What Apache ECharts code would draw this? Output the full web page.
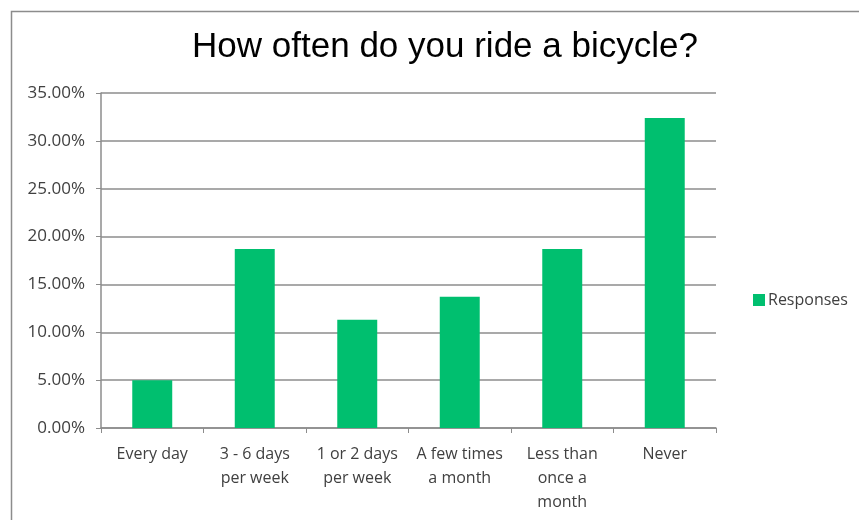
<!DOCTYPE html>
<html><head><meta charset="utf-8">
<script src="https://cdn.jsdelivr.net/npm/echarts@6/dist/echarts.min.js"></script>
<style>html,body{margin:0;padding:0;background:#fff}#c{width:859px;height:520px}</style>
</head><body><div id="c"></div>
<script>
const categories = ["Every day", "3 - 6 days\nper week", "1 or 2 days\nper week", "A few times\na month", "Less than\nonce a\nmonth", "Never"];
const responses = [5.0, 18.7, 11.3, 13.7, 18.7, 32.4];
const yTicks = [0, 5, 10, 15, 20, 25, 30, 35];

const chart = echarts.init(document.getElementById('c'), null, {renderer: 'canvas'});
chart.setOption({
  backgroundColor: '#fff',
  animation: false,
  title: {
    text: 'How often do you ride a bicycle?',
    left: 440, top: 25, textAlign: 'center',
    textStyle: {fontFamily: 'Liberation Sans', fontSize: 35, fontWeight: 'normal', color: '#000'}
  },
  graphic: [{type: 'rect', shape: {x: 11.5, y: 11.5, width: 900, height: 600}, style: {fill: 'none', stroke: '#8c8c8c', lineWidth: 1.5}, silent: true}],
  legend: {
    left: 748, top: 285, orient: 'vertical',
    itemWidth: 12, itemHeight: 12, itemGap: 4,
    icon: 'rect',
    textStyle: {fontFamily: 'Open Sans', fontSize: 16, color: '#404040', padding: [0, 0, 0, -2], lineHeight: 20}
  },
  grid: {left: 101, right: 143, top: 93, bottom: 92, containLabel: false},
  xAxis: {
    type: 'category', data: categories,
    axisLine: {lineStyle: {color: '#8c8c8c', width: 1.5}},
    axisTick: {show: true, alignWithLabel: false, length: 5, lineStyle: {color: '#8c8c8c'}},
    axisLabel: {interval: 0, fontFamily: 'Open Sans', fontSize: 16, color: '#404040', lineHeight: 24, margin: 14}
  },
  yAxis: {
    type: 'value', min: 0, max: 35, interval: 5,
    axisLine: {show: true, lineStyle: {color: '#8c8c8c', width: 1.5}},
    axisTick: {show: true, length: 5, lineStyle: {color: '#8c8c8c'}},
    splitLine: {lineStyle: {color: '#8c8c8c', width: 1.5}},
    axisLabel: {fontFamily: 'Open Sans', fontSize: 17, color: '#404040', margin: 16,
      formatter: v => yTicks.includes(v) ? v.toFixed(2) + '%' : ''}
  },
  series: [{
    name: 'Responses', type: 'bar', data: responses, barWidth: '39%',
    itemStyle: {color: '#00BF6F'}
  }]
});
</script></body></html>
